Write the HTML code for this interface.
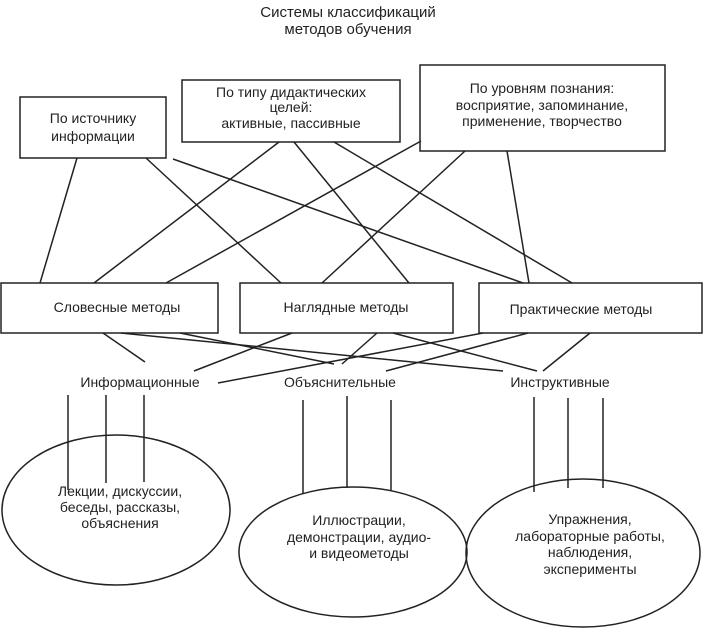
<!DOCTYPE html>
<html><head><meta charset="utf-8"><style>
html,body{margin:0;padding:0;background:#fff;}
svg text{font-family:"Liberation Sans",sans-serif;fill:#222;}
</style></head><body>
<svg width="704" height="629" viewBox="0 0 704 629" xmlns="http://www.w3.org/2000/svg">
<g font-size="15" text-anchor="middle">
<text x="348" y="17">Системы классификаций</text>
<text x="348" y="34">методов обучения</text>
</g>
<g fill="none" stroke="#222" stroke-width="1.5">
<rect x="20" y="97" width="146" height="61"/>
<rect x="182" y="80" width="218" height="62"/>
<rect x="420" y="65" width="245" height="86"/>
<rect x="1" y="283" width="217" height="50"/>
<rect x="240" y="283" width="213" height="50"/>
<rect x="479" y="283" width="223" height="50"/>
<line x1="77" y1="158" x2="40" y2="283"/>
<line x1="146" y1="158" x2="281" y2="283"/>
<line x1="173" y1="159" x2="523" y2="283"/>
<line x1="279" y1="142" x2="94" y2="283"/>
<line x1="294" y1="142" x2="409" y2="283"/>
<line x1="334" y1="142" x2="572" y2="283"/>
<line x1="421" y1="141" x2="166" y2="283"/>
<line x1="465" y1="151" x2="322" y2="283"/>
<line x1="507" y1="151" x2="529" y2="283"/>
<line x1="103" y1="333" x2="145" y2="362"/>
<line x1="121" y1="333" x2="503" y2="371"/>
<line x1="180" y1="333" x2="334" y2="364"/>
<line x1="292" y1="333" x2="194" y2="371"/>
<line x1="377" y1="333" x2="342" y2="364"/>
<line x1="393" y1="333" x2="537" y2="371"/>
<line x1="483" y1="333" x2="218" y2="383"/>
<line x1="528" y1="333" x2="386" y2="371"/>
<line x1="590" y1="333" x2="543" y2="371"/>
<line x1="68" y1="395" x2="68" y2="490"/>
<line x1="106" y1="395" x2="106" y2="483"/>
<line x1="144" y1="395" x2="144" y2="482"/>
<line x1="303" y1="400" x2="303" y2="494"/>
<line x1="347" y1="396" x2="347" y2="488"/>
<line x1="391" y1="400" x2="391" y2="490"/>
<line x1="534" y1="397" x2="534" y2="492"/>
<line x1="568" y1="398" x2="568" y2="488"/>
<line x1="603" y1="398" x2="603" y2="488"/>
<ellipse cx="116" cy="510" rx="114" ry="75"/>
<ellipse cx="353" cy="552" rx="114" ry="65"/>
<ellipse cx="583" cy="553" rx="117" ry="74"/>
</g>
<g font-size="14" text-anchor="middle">
<text x="93" y="123">По источнику</text>
<text x="93" y="141">информации</text>
<text x="291" y="97">По типу дидактических</text>
<text x="291" y="112">целей:</text>
<text x="291" y="128">активные, пассивные</text>
<text x="542" y="93">По уровням познания:</text>
<text x="542" y="110">восприятие, запоминание,</text>
<text x="542" y="126">применение, творчество</text>
<text x="117" y="312">Словесные методы</text>
<text x="346" y="312">Наглядные методы</text>
<text x="581" y="314">Практические методы</text>
<text x="140" y="387">Информационные</text>
<text x="340" y="387">Объяснительные</text>
<text x="560" y="387">Инструктивные</text>
<text x="120" y="496">Лекции, дискуссии,</text>
<text x="120" y="512">беседы, рассказы,</text>
<text x="120" y="528">объяснения</text>
<text x="359" y="525">Иллюстрации,</text>
<text x="359" y="542">демонстрации, аудио-</text>
<text x="359" y="558">и видеометоды</text>
<text x="590" y="524">Упражнения,</text>
<text x="590" y="541">лабораторные работы,</text>
<text x="590" y="557">наблюдения,</text>
<text x="590" y="574">эксперименты</text>
</g>
</svg>
</body></html>
